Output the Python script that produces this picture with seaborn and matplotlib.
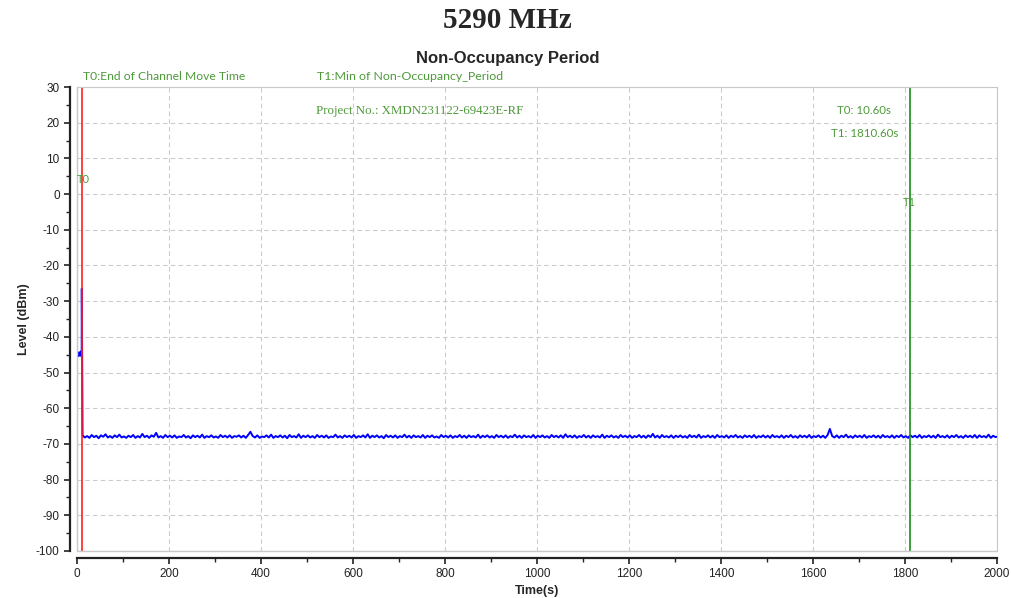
import numpy as np
import pandas as pd
import matplotlib.pyplot as plt
import seaborn as sns
from matplotlib.ticker import MultipleLocator

# start of the trace, before the channel move (seconds, dBm)
start_time = [0.5, 1.5, 2.5, 3.5, 4.5, 5.5, 6.5, 7.5, 8.5, 9.5, 10.2, 10.4]
start_level = [-44.6, -45.2, -44.8, -45.4, -44.3, -45.0, -44.7, -45.3, -44.1, -45.1, -44.9, -26.5]

# non-occupancy trace, one reading every 5 s from 12 s onwards
noop_level = [
    -67.6, -68.2, -67.8, -68.3, -67.5, -68.1, -67.7, -68.4, -67.6, -68.0, -67.3, -68.2, -67.8, -68.3, -67.6, -68.1, -67.4, -68.2, -67.9, -68.3,
    -67.7, -68.1, -67.5, -68.3, -67.8, -68.2, -67.2, -68.1, -67.7, -68.3, -67.6, -68.0, -66.9, -68.2, -67.8, -68.3, -67.5, -68.1, -67.7, -68.2,
    -67.6, -68.3, -67.9, -68.1, -67.5, -68.2, -67.8, -68.4, -67.6, -68.1, -67.7, -68.2, -67.4, -68.3, -67.8, -68.1, -67.6, -68.2, -67.9, -68.3,
    -67.5, -68.1, -67.7, -68.2, -67.6, -68.3, -67.8, -68.0, -67.6, -68.2, -67.7, -68.3, -67.5, -66.6, -67.8, -68.2, -67.6, -68.3, -67.9, -68.1,
    -67.6, -68.2, -67.4, -68.3, -67.8, -68.1, -67.6, -68.2, -67.7, -68.4, -67.5, -68.1, -67.8, -68.2, -67.3, -68.3, -67.7, -68.1, -67.6, -68.2,
    -67.8, -68.3, -67.5, -68.1, -67.7, -68.2, -67.6, -68.3, -67.9, -68.1, -67.4, -68.2, -67.8, -68.3, -67.6, -68.1, -67.7, -68.2, -67.5, -68.3,
    -67.8, -68.1, -67.6, -68.2, -67.3, -68.3, -67.7, -68.1, -67.6, -68.2, -67.8, -68.4, -67.5, -68.1, -67.7, -68.2, -67.6, -68.3, -67.8, -68.1,
    -67.4, -68.2, -67.7, -68.3, -67.6, -68.1, -67.8, -68.2, -67.5, -68.3, -67.7, -68.1, -67.6, -68.2, -67.9, -68.3, -67.5, -68.1, -67.7, -68.2,
    -67.6, -68.3, -67.8, -68.1, -67.5, -68.2, -67.7, -68.3, -67.6, -68.1, -67.8, -68.2, -67.4, -68.3, -67.7, -68.1, -67.6, -68.2, -67.8, -68.3,
    -67.5, -68.1, -67.7, -68.2, -67.6, -68.3, -67.8, -68.1, -67.4, -68.2, -67.7, -68.3, -67.6, -68.1, -67.8, -68.2, -67.5, -68.3, -67.7, -68.1,
    -67.6, -68.2, -67.8, -68.3, -67.5, -68.1, -67.7, -68.2, -67.6, -68.3, -67.3, -68.1, -67.7, -68.2, -67.6, -68.3, -67.8, -68.1, -67.5, -68.2,
    -67.7, -68.3, -67.6, -68.1, -67.8, -68.2, -67.4, -68.3, -67.7, -68.1, -67.6, -68.2, -67.8, -68.3, -67.5, -68.1, -67.7, -68.2, -67.6, -68.3,
    -67.8, -68.1, -67.5, -68.2, -67.7, -68.3, -67.6, -68.1, -67.2, -68.2, -67.7, -68.3, -67.5, -68.1, -67.8, -68.2, -67.6, -68.3, -67.7, -68.1,
    -67.6, -68.2, -67.8, -68.3, -67.5, -68.1, -67.7, -68.2, -67.4, -68.3, -67.8, -68.1, -67.6, -68.2, -67.7, -68.3, -67.5, -68.1, -67.8, -68.2,
    -67.6, -68.3, -67.7, -68.1, -67.5, -68.2, -67.8, -68.3, -67.6, -68.1, -67.7, -68.2, -67.5, -68.3, -67.8, -68.1, -67.6, -68.2, -67.7, -68.3,
    -67.5, -68.1, -67.8, -68.2, -67.6, -68.3, -67.7, -68.1, -67.5, -68.2, -67.8, -68.3, -67.6, -68.1, -67.7, -68.2, -67.5, -68.3, -67.8, -68.1,
    -67.6, -68.2, -67.7, -68.3, -67.5, -65.8, -67.8, -68.2, -67.6, -68.3, -67.7, -68.1, -67.4, -68.2, -67.8, -68.3, -67.6, -68.1, -67.7, -68.2,
    -67.5, -68.3, -67.8, -68.1, -67.6, -68.2, -67.7, -68.3, -67.5, -68.1, -67.8, -68.2, -67.6, -68.3, -67.7, -68.1, -67.5, -68.2, -67.8, -68.3,
    -67.6, -68.1, -67.7, -68.2, -67.5, -68.3, -67.8, -68.1, -67.6, -68.2, -67.7, -68.3, -67.4, -68.1, -67.8, -68.2, -67.6, -68.3, -67.7, -68.1,
    -67.5, -68.2, -67.8, -68.3, -67.6, -68.1, -67.7, -68.2, -67.5, -68.3, -67.6, -68.1, -67.8, -68.2, -67.4, -68.3, -67.7, -68.1, -67.9, -68.2,
]
noop_time = np.arange(12, 12 + 5 * len(noop_level), 5)

t0_time = 10.6
t1_time = 1810.6

x_ticks = [0, 200, 400, 600, 800, 1000, 1200, 1400, 1600, 1800, 2000]
y_ticks = [30, 20, 10, 0, -10, -20, -30, -40, -50, -60, -70, -80, -90, -100]

trace = pd.DataFrame({
    "Time": list(start_time) + list(noop_time),
    "Level": start_level + noop_level,
})

sns.set_style("white")
plt.rcParams["font.family"] = ["Liberation Sans", "DejaVu Sans"]
plt.rcParams["axes.unicode_minus"] = False

green = "#4e9a3a"
fig = plt.figure(figsize=(10.12, 5.98), dpi=100)
ax = fig.add_axes([0.0761, 0.0786, 0.9089, 0.7759])

sns.lineplot(data=trace, x="Time", y="Level", ax=ax, color="#0000ff", linewidth=1.4)

ax.axvline(t0_time, color="#ff2020", linewidth=1.2)
ax.axvline(t1_time, color="#1a8a1a", linewidth=1.2)

ax.set_xlim(0, 2000)
ax.set_ylim(-100, 30)
ax.set_xticks(x_ticks)
ax.set_yticks(y_ticks)
ax.xaxis.set_minor_locator(MultipleLocator(100))
ax.yaxis.set_minor_locator(MultipleLocator(5))
ax.grid(True, which="major", color="#cccccc", linestyle=(0, (4, 3)), linewidth=0.8)

for side in ["top", "right"]:
    ax.spines[side].set_color("#c8c8c8")
for side in ["left", "bottom"]:
    ax.spines[side].set_position(("outward", 5))
    ax.spines[side].set_color("#222222")
    ax.spines[side].set_linewidth(1.6)
ax.plot([0, 0], [-100, 30], color="#c8c8c8", linewidth=1.0, clip_on=False)
ax.plot([0, 2000], [-100, -100], color="#c8c8c8", linewidth=1.0, clip_on=False)

ax.tick_params(which="major", direction="out", length=4, width=1.2, colors="#222222", labelsize=8.5, left=True, bottom=True)
ax.tick_params(which="minor", direction="out", length=3, width=1.0, colors="#222222", left=True, bottom=True)

ax.set_xlabel("Time(s)", fontsize=9, fontweight="bold", labelpad=3)
ax.set_ylabel("Level (dBm)", fontsize=9, fontweight="bold", labelpad=4)

ax.text(0, 3.0, "T0", color=green, fontsize=8, family="Lato")
ax.text(t1_time - 14, -3.4, "T1", color=green, fontsize=8, family="Lato")
ax.text(1712, 23.3, "T0: 10.60s", color=green, fontsize=8.3, family="Lato", ha="center", va="center")
ax.text(1712, 17.1, "T1: 1810.60s", color=green, fontsize=8.3, family="Lato", ha="center", va="center")
ax.text(520, 23.3, "Project No.: XMDN231122-69423E-RF", color=green, fontsize=9.3,
        family="Liberation Serif", va="center")

fig.text(83 / 1012, 1 - 76 / 598, "T0:End of Channel Move Time", color=green, fontsize=8.7, family="Lato", va="center")
fig.text(317 / 1012, 1 - 76 / 598, "T1:Min of Non-Occupancy_Period", color=green, fontsize=8.9, family="Lato", va="center")
fig.text(508 / 1012, 1 - 58 / 598, "Non-Occupancy Period", fontsize=12, fontweight="bold", ha="center", va="center")
fig.text(507 / 1012, 1 - 21 / 598, "5290 MHz", fontsize=21, fontweight="bold", family="Liberation Serif",
         ha="center", va="center")

fig.savefig("out.png", dpi=100)
